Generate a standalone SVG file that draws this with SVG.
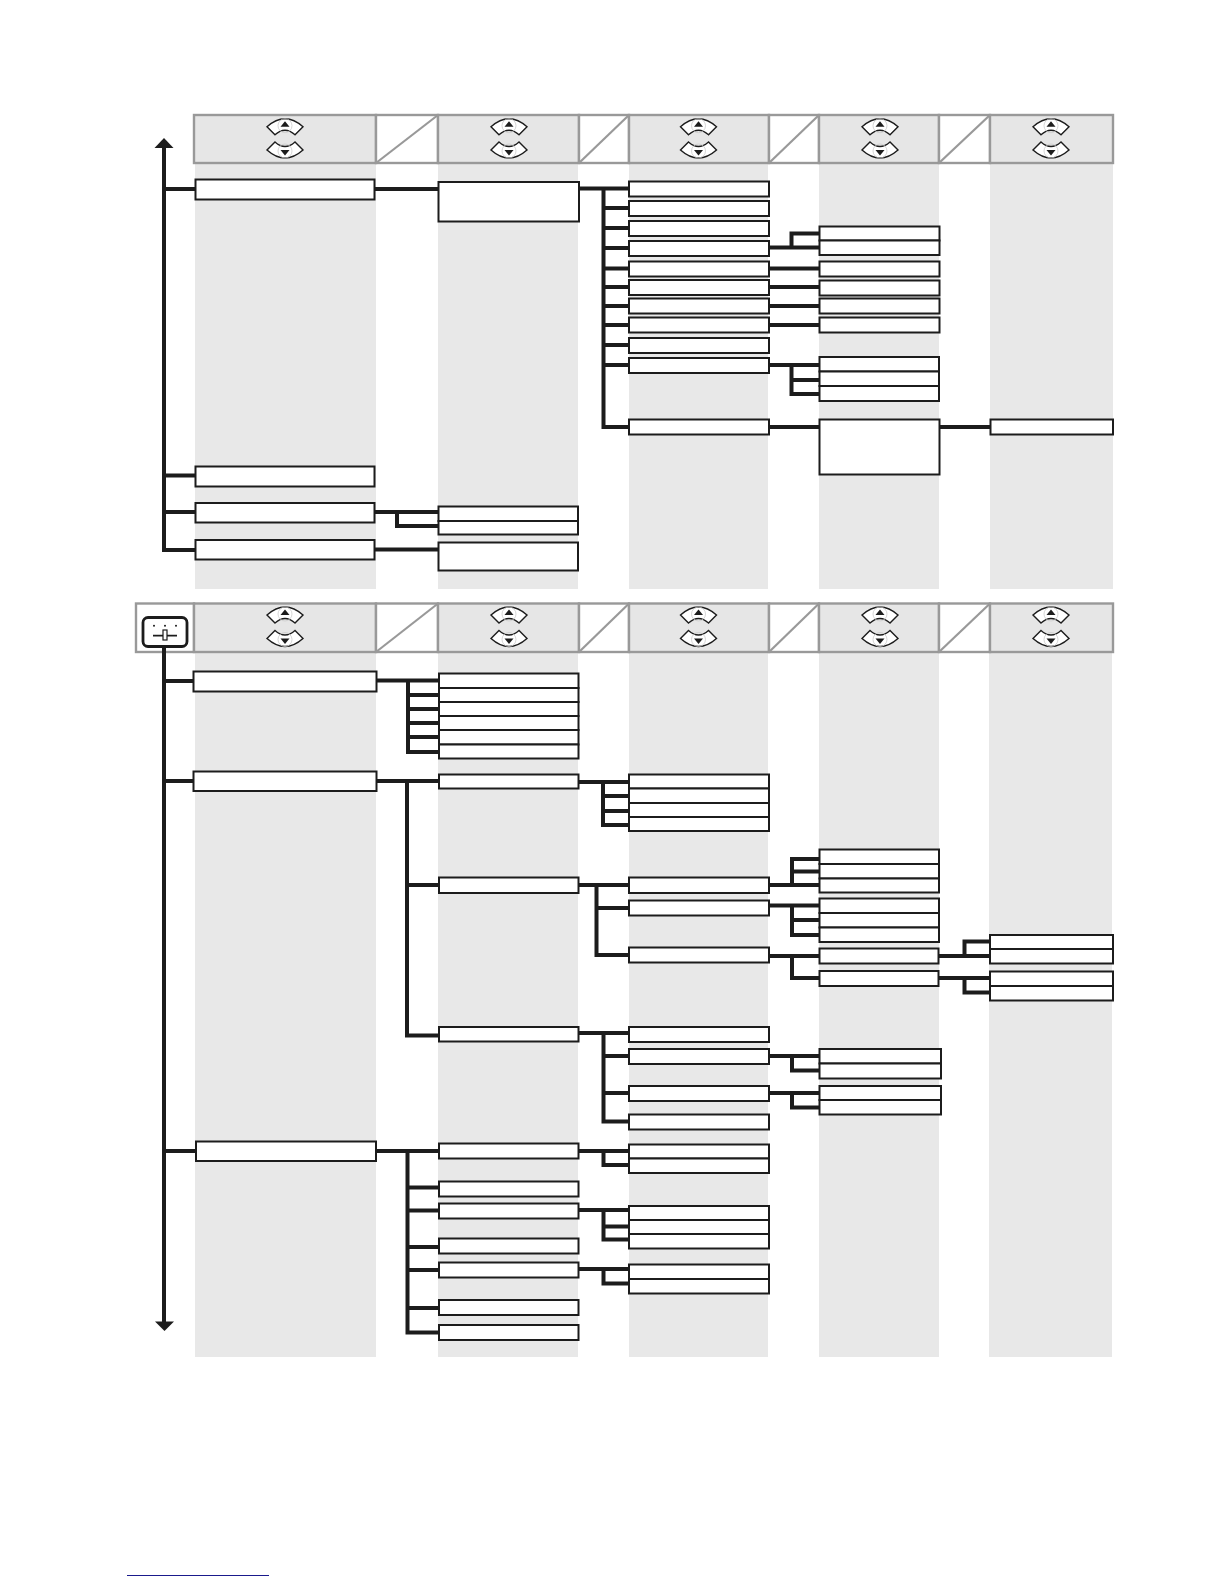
<svg xmlns="http://www.w3.org/2000/svg" width="1224" height="1584" viewBox="0 0 1224 1584">
<style>
.band{fill:#e8e8e8}
.hd{fill:#e6e6e6;stroke:#999;stroke-width:2.4}
.hw{fill:#fff;stroke:#999;stroke-width:2.4}
.dg{stroke:#999;stroke-width:2.2;fill:none}
.b{fill:#fff;stroke:#1c1c1c;stroke-width:2}
.c{fill:none;stroke:#1c1c1c;stroke-width:4}
.ar{fill:#1c1c1c}
</style>
<defs>
<g id="up">
<path d="M-18 0Q0-16 18 0L10 8Q0-1-10 8Z" fill="#fff" stroke="#1c1c1c" stroke-width="1.4"/>
<circle cx="0" cy="-1" r="7" fill="none" stroke="#ccc" stroke-width="0.8"/>
<path d="M0-5.500L-4.500 0H4.500Z" fill="#1c1c1c"/>
</g>
<g id="dn">
<path d="M-18 0Q0 16 18 0L10-8Q0 1-10-8Z" fill="#fff" stroke="#1c1c1c" stroke-width="1.4"/>
<circle cx="0" cy="1" r="7" fill="none" stroke="#ccc" stroke-width="0.8"/>
<path d="M0 5.500L-4.500 0H4.500Z" fill="#1c1c1c"/>
</g>
</defs>
<g id="bands">
<rect class="band" x="195" y="163" width="181" height="426"/><rect class="band" x="438" y="163" width="140" height="426"/><rect class="band" x="629" y="163" width="139" height="426"/><rect class="band" x="819" y="163" width="120" height="426"/><rect class="band" x="990" y="163" width="123" height="426"/>
<rect class="band" x="195" y="652" width="181" height="705"/><rect class="band" x="438" y="652" width="140" height="705"/><rect class="band" x="629" y="652" width="139" height="705"/><rect class="band" x="819" y="652" width="120" height="705"/><rect class="band" x="989" y="652" width="123" height="705"/>
</g>
<g id="header-1">
<rect class="hd" x="194" y="115" width="182" height="48"/><rect class="hw" x="376" y="115" width="62" height="48"/><path class="dg" d="M376 163L438 115"/>
<rect class="hd" x="438" y="115" width="141" height="48"/><rect class="hw" x="579" y="115" width="50" height="48"/><path class="dg" d="M579 163L629 115"/>
<rect class="hd" x="629" y="115" width="140" height="48"/><rect class="hw" x="769" y="115" width="50" height="48"/><path class="dg" d="M769 163L819 115"/>
<rect class="hd" x="819" y="115" width="120" height="48"/><rect class="hw" x="939" y="115" width="51" height="48"/><path class="dg" d="M939 163L990 115"/>
<rect class="hd" x="990" y="115" width="123" height="48"/>
<use href="#up" x="285" y="126.700"/><use href="#dn" x="285" y="150"/>
<use href="#up" x="509" y="126.700"/><use href="#dn" x="509" y="150"/>
<use href="#up" x="698.500" y="126.700"/><use href="#dn" x="698.500" y="150"/>
<use href="#up" x="880" y="126.700"/><use href="#dn" x="880" y="150"/>
<use href="#up" x="1051" y="126.700"/><use href="#dn" x="1051" y="150"/>
</g>
<g id="header-2">
<rect class="hw" x="136" y="603.500" width="58" height="48.500"/>
<rect class="hd" x="194" y="603.500" width="182" height="48.500"/><rect class="hw" x="376" y="603.500" width="62" height="48.500"/><path class="dg" d="M376 652L438 603.500"/>
<rect class="hd" x="438" y="603.500" width="141" height="48.500"/><rect class="hw" x="579" y="603.500" width="50" height="48.500"/><path class="dg" d="M579 652L629 603.500"/>
<rect class="hd" x="629" y="603.500" width="140" height="48.500"/><rect class="hw" x="769" y="603.500" width="50" height="48.500"/><path class="dg" d="M769 652L819 603.500"/>
<rect class="hd" x="819" y="603.500" width="120" height="48.500"/><rect class="hw" x="939" y="603.500" width="51" height="48.500"/><path class="dg" d="M939 652L990 603.500"/>
<rect class="hd" x="990" y="603.500" width="123" height="48.500"/>
<use href="#up" x="285" y="615"/><use href="#dn" x="285" y="638.500"/>
<use href="#up" x="509" y="615"/><use href="#dn" x="509" y="638.500"/>
<use href="#up" x="698.500" y="615"/><use href="#dn" x="698.500" y="638.500"/>
<use href="#up" x="880" y="615"/><use href="#dn" x="880" y="638.500"/>
<use href="#up" x="1051" y="615"/><use href="#dn" x="1051" y="638.500"/>
</g>
<g id="connectors">
<path class="c" d="M164 146V550H195M164 189H195M164 475.500H195M164 512H195"/>
<path class="ar" d="M164 138L173.500 148H154.500Z"/>
<path class="c" d="M374 189H438M374 512H438M397 512V526H438M374 549.500H438"/>
<path class="c" d="M579 188.500H629M603.500 188.500V427H629M603.500 208H629M603.500 228H629M603.500 248H629M603.500 268.500H629M603.500 287H629M603.500 306H629M603.500 325H629M603.500 345H629M603.500 365H629"/>
<path class="c" d="M769 247.500H819M791.500 247.500V233.500H819M769 268.500H819M769 287H819M769 306H819M769 325H819M769 365H819M791.500 365V394H819M791.500 380H819M769 427H819M939 427H990"/>
<path class="c" d="M164 646V1323M164 681H193M164 781H193M164 1151H195"/>
<path class="ar" d="M164.500 1331L155 1321.500H174Z"/>
<path class="c" d="M376 680.500H439M408 680.500V752H439M408 695H439M408 709H439M408 723H439M408 737H439"/>
<path class="c" d="M376 781H439M407 781V1035.500H439M407 885H439"/>
<path class="c" d="M578 782H629M603 782V825H629M603 796H629M603 811H629"/>
<path class="c" d="M578 885H629M596.500 885V955H629M596.500 908H629"/>
<path class="c" d="M769 885H819M792 885V859H819M792 871.500H819M769 905.500H819M792 905.500V935H819M792 920H819M769 956H819M792 956V978H819"/>
<path class="c" d="M938 956H990M964.500 956V941.500H990M938 978H990M964.500 978V992.500H990"/>
<path class="c" d="M578 1033H629M603.500 1033V1121.500H629M603.500 1056H629M603.500 1093H629"/>
<path class="c" d="M769 1056H819M792 1056V1070.500H819M769 1093H819M792 1093V1107.500H819"/>
<path class="c" d="M376 1151H439M407.500 1151V1332.500H439M407.500 1187.500H439M407.500 1210.500H439M407.500 1247H439M407.500 1270H439M407.500 1308H439"/>
<path class="c" d="M578 1151H629M603.500 1151V1165H629M578 1210H629M603.500 1210V1239.500H629M603.500 1226.500H629M578 1269H629M603.500 1269V1283.500H629"/>
</g>
<g id="icon-switch">
<rect x="143" y="617.500" width="44" height="29" rx="5" fill="#fff" stroke="#1c1c1c" stroke-width="2.800"/>
<circle cx="154" cy="625.700" r="1" fill="#1c1c1c"/><circle cx="165" cy="625.700" r="1" fill="#1c1c1c"/><circle cx="176" cy="625.700" r="1" fill="#1c1c1c"/>
<path d="M153 635.700H163M167 635.700H177" stroke="#1c1c1c" stroke-width="1.800" fill="none"/>
<rect x="163" y="630" width="4" height="10" fill="#fff" stroke="#1c1c1c" stroke-width="1.200"/>
</g>
<g id="n1"><rect class="b" x="195.500" y="179.500" width="179" height="20"/></g>
<g id="n2"><rect class="b" x="195.500" y="466.500" width="179" height="20"/></g>
<g id="n3"><rect class="b" x="195.500" y="503" width="179" height="19.500"/></g>
<g id="n4"><rect class="b" x="195.500" y="540" width="179" height="19.500"/></g>
<g id="n5"><rect class="b" x="438.500" y="182" width="140.500" height="39.500"/></g>
<g id="n6"><rect class="b" x="438.500" y="506.500" width="139.500" height="14.500"/></g>
<g id="n7"><rect class="b" x="438.500" y="521" width="139.500" height="13.500"/></g>
<g id="n8"><rect class="b" x="438.500" y="542.500" width="139.500" height="28"/></g>
<g id="n9"><rect class="b" x="629" y="181.500" width="140" height="15"/></g>
<g id="n10"><rect class="b" x="629" y="201" width="140" height="15"/></g>
<g id="n11"><rect class="b" x="629" y="221" width="140" height="15"/></g>
<g id="n12"><rect class="b" x="629" y="241" width="140" height="15"/></g>
<g id="n13"><rect class="b" x="629" y="261.500" width="140" height="15"/></g>
<g id="n14"><rect class="b" x="629" y="280" width="140" height="15"/></g>
<g id="n15"><rect class="b" x="629" y="298.500" width="140" height="15"/></g>
<g id="n16"><rect class="b" x="629" y="317.500" width="140" height="15"/></g>
<g id="n17"><rect class="b" x="629" y="338" width="140" height="15"/></g>
<g id="n18"><rect class="b" x="629" y="358" width="140" height="15"/></g>
<g id="n19"><rect class="b" x="629" y="419.500" width="140" height="15"/></g>
<g id="n20"><rect class="b" x="819.500" y="226.500" width="120" height="14"/></g>
<g id="n21"><rect class="b" x="819.500" y="240.500" width="120" height="14.500"/></g>
<g id="n22"><rect class="b" x="819.500" y="261.500" width="120" height="15"/></g>
<g id="n23"><rect class="b" x="819.500" y="280.500" width="120" height="15"/></g>
<g id="n24"><rect class="b" x="819.500" y="298.500" width="120" height="15"/></g>
<g id="n25"><rect class="b" x="819.500" y="317.500" width="120" height="15"/></g>
<g id="n26"><rect class="b" x="819.500" y="357" width="119.500" height="14.500"/></g>
<g id="n27"><rect class="b" x="819.500" y="371.500" width="119.500" height="14.500"/></g>
<g id="n28"><rect class="b" x="819.500" y="386" width="119.500" height="15"/></g>
<g id="n29"><rect class="b" x="819.500" y="419.500" width="120" height="55"/></g>
<g id="n30"><rect class="b" x="990.500" y="419.500" width="122.500" height="15"/></g>
<g id="n31"><rect class="b" x="193.500" y="671.500" width="183" height="20"/></g>
<g id="n32"><rect class="b" x="193.500" y="771.500" width="183" height="19.500"/></g>
<g id="n33"><rect class="b" x="196" y="1141.500" width="180" height="19.500"/></g>
<g id="n34"><rect class="b" x="439" y="673.500" width="139.500" height="14.500"/></g>
<g id="n35"><rect class="b" x="439" y="688" width="139.500" height="14"/></g>
<g id="n36"><rect class="b" x="439" y="702" width="139.500" height="14"/></g>
<g id="n37"><rect class="b" x="439" y="716" width="139.500" height="14"/></g>
<g id="n38"><rect class="b" x="439" y="730" width="139.500" height="14.500"/></g>
<g id="n39"><rect class="b" x="439" y="744.500" width="139.500" height="14"/></g>
<g id="n40"><rect class="b" x="439" y="774.500" width="139.500" height="14"/></g>
<g id="n41"><rect class="b" x="439" y="877.500" width="139.500" height="15.500"/></g>
<g id="n42"><rect class="b" x="439" y="1027" width="139.500" height="14.500"/></g>
<g id="n43"><rect class="b" x="629" y="774.500" width="140" height="14"/></g>
<g id="n44"><rect class="b" x="629" y="788.500" width="140" height="14.500"/></g>
<g id="n45"><rect class="b" x="629" y="803" width="140" height="14"/></g>
<g id="n46"><rect class="b" x="629" y="817" width="140" height="14"/></g>
<g id="n47"><rect class="b" x="629" y="877.500" width="140" height="15.500"/></g>
<g id="n48"><rect class="b" x="629" y="900.500" width="140" height="15"/></g>
<g id="n49"><rect class="b" x="629" y="947.500" width="140" height="15"/></g>
<g id="n50"><rect class="b" x="819.500" y="849.500" width="119.500" height="14.500"/></g>
<g id="n51"><rect class="b" x="819.500" y="864" width="119.500" height="14.500"/></g>
<g id="n52"><rect class="b" x="819.500" y="878.500" width="119.500" height="14"/></g>
<g id="n53"><rect class="b" x="819.500" y="898.500" width="119.500" height="14.500"/></g>
<g id="n54"><rect class="b" x="819.500" y="913" width="119.500" height="14.500"/></g>
<g id="n55"><rect class="b" x="819.500" y="927.500" width="119.500" height="14.500"/></g>
<g id="n56"><rect class="b" x="819.500" y="948.500" width="119" height="15"/></g>
<g id="n57"><rect class="b" x="819.500" y="971" width="119" height="15"/></g>
<g id="n58"><rect class="b" x="990" y="935" width="123" height="14"/></g>
<g id="n59"><rect class="b" x="990" y="949" width="123" height="14.500"/></g>
<g id="n60"><rect class="b" x="990" y="971.500" width="123" height="14.500"/></g>
<g id="n61"><rect class="b" x="990" y="986" width="123" height="14.500"/></g>
<g id="n62"><rect class="b" x="629" y="1027" width="140" height="15"/></g>
<g id="n63"><rect class="b" x="629" y="1049" width="140" height="15"/></g>
<g id="n64"><rect class="b" x="629" y="1086" width="140" height="15"/></g>
<g id="n65"><rect class="b" x="629" y="1114.500" width="140" height="15"/></g>
<g id="n66"><rect class="b" x="819.500" y="1049" width="121.500" height="14.500"/></g>
<g id="n67"><rect class="b" x="819.500" y="1063.500" width="121.500" height="15"/></g>
<g id="n68"><rect class="b" x="819.500" y="1086" width="121.500" height="14"/></g>
<g id="n69"><rect class="b" x="819.500" y="1100" width="121.500" height="14.500"/></g>
<g id="n70"><rect class="b" x="439" y="1143.500" width="139.500" height="15"/></g>
<g id="n71"><rect class="b" x="439" y="1181.500" width="139.500" height="15"/></g>
<g id="n72"><rect class="b" x="439" y="1203.500" width="139.500" height="15"/></g>
<g id="n73"><rect class="b" x="439" y="1238.500" width="139.500" height="15"/></g>
<g id="n74"><rect class="b" x="439" y="1262.500" width="139.500" height="15"/></g>
<g id="n75"><rect class="b" x="439" y="1300" width="139.500" height="15"/></g>
<g id="n76"><rect class="b" x="439" y="1325" width="139.500" height="15"/></g>
<g id="n77"><rect class="b" x="629" y="1144.500" width="140" height="14"/></g>
<g id="n78"><rect class="b" x="629" y="1158.500" width="140" height="14.500"/></g>
<g id="n79"><rect class="b" x="629" y="1206" width="140" height="14"/></g>
<g id="n80"><rect class="b" x="629" y="1220" width="140" height="14"/></g>
<g id="n81"><rect class="b" x="629" y="1234" width="140" height="14.500"/></g>
<g id="n82"><rect class="b" x="629" y="1264.500" width="140" height="14.500"/></g>
<g id="n83"><rect class="b" x="629" y="1279" width="140" height="14.500"/></g>
<path id="footer-rule" d="M127 1575.500H269" stroke="#1a1a8c" stroke-width="1" fill="none"/>
</svg>
